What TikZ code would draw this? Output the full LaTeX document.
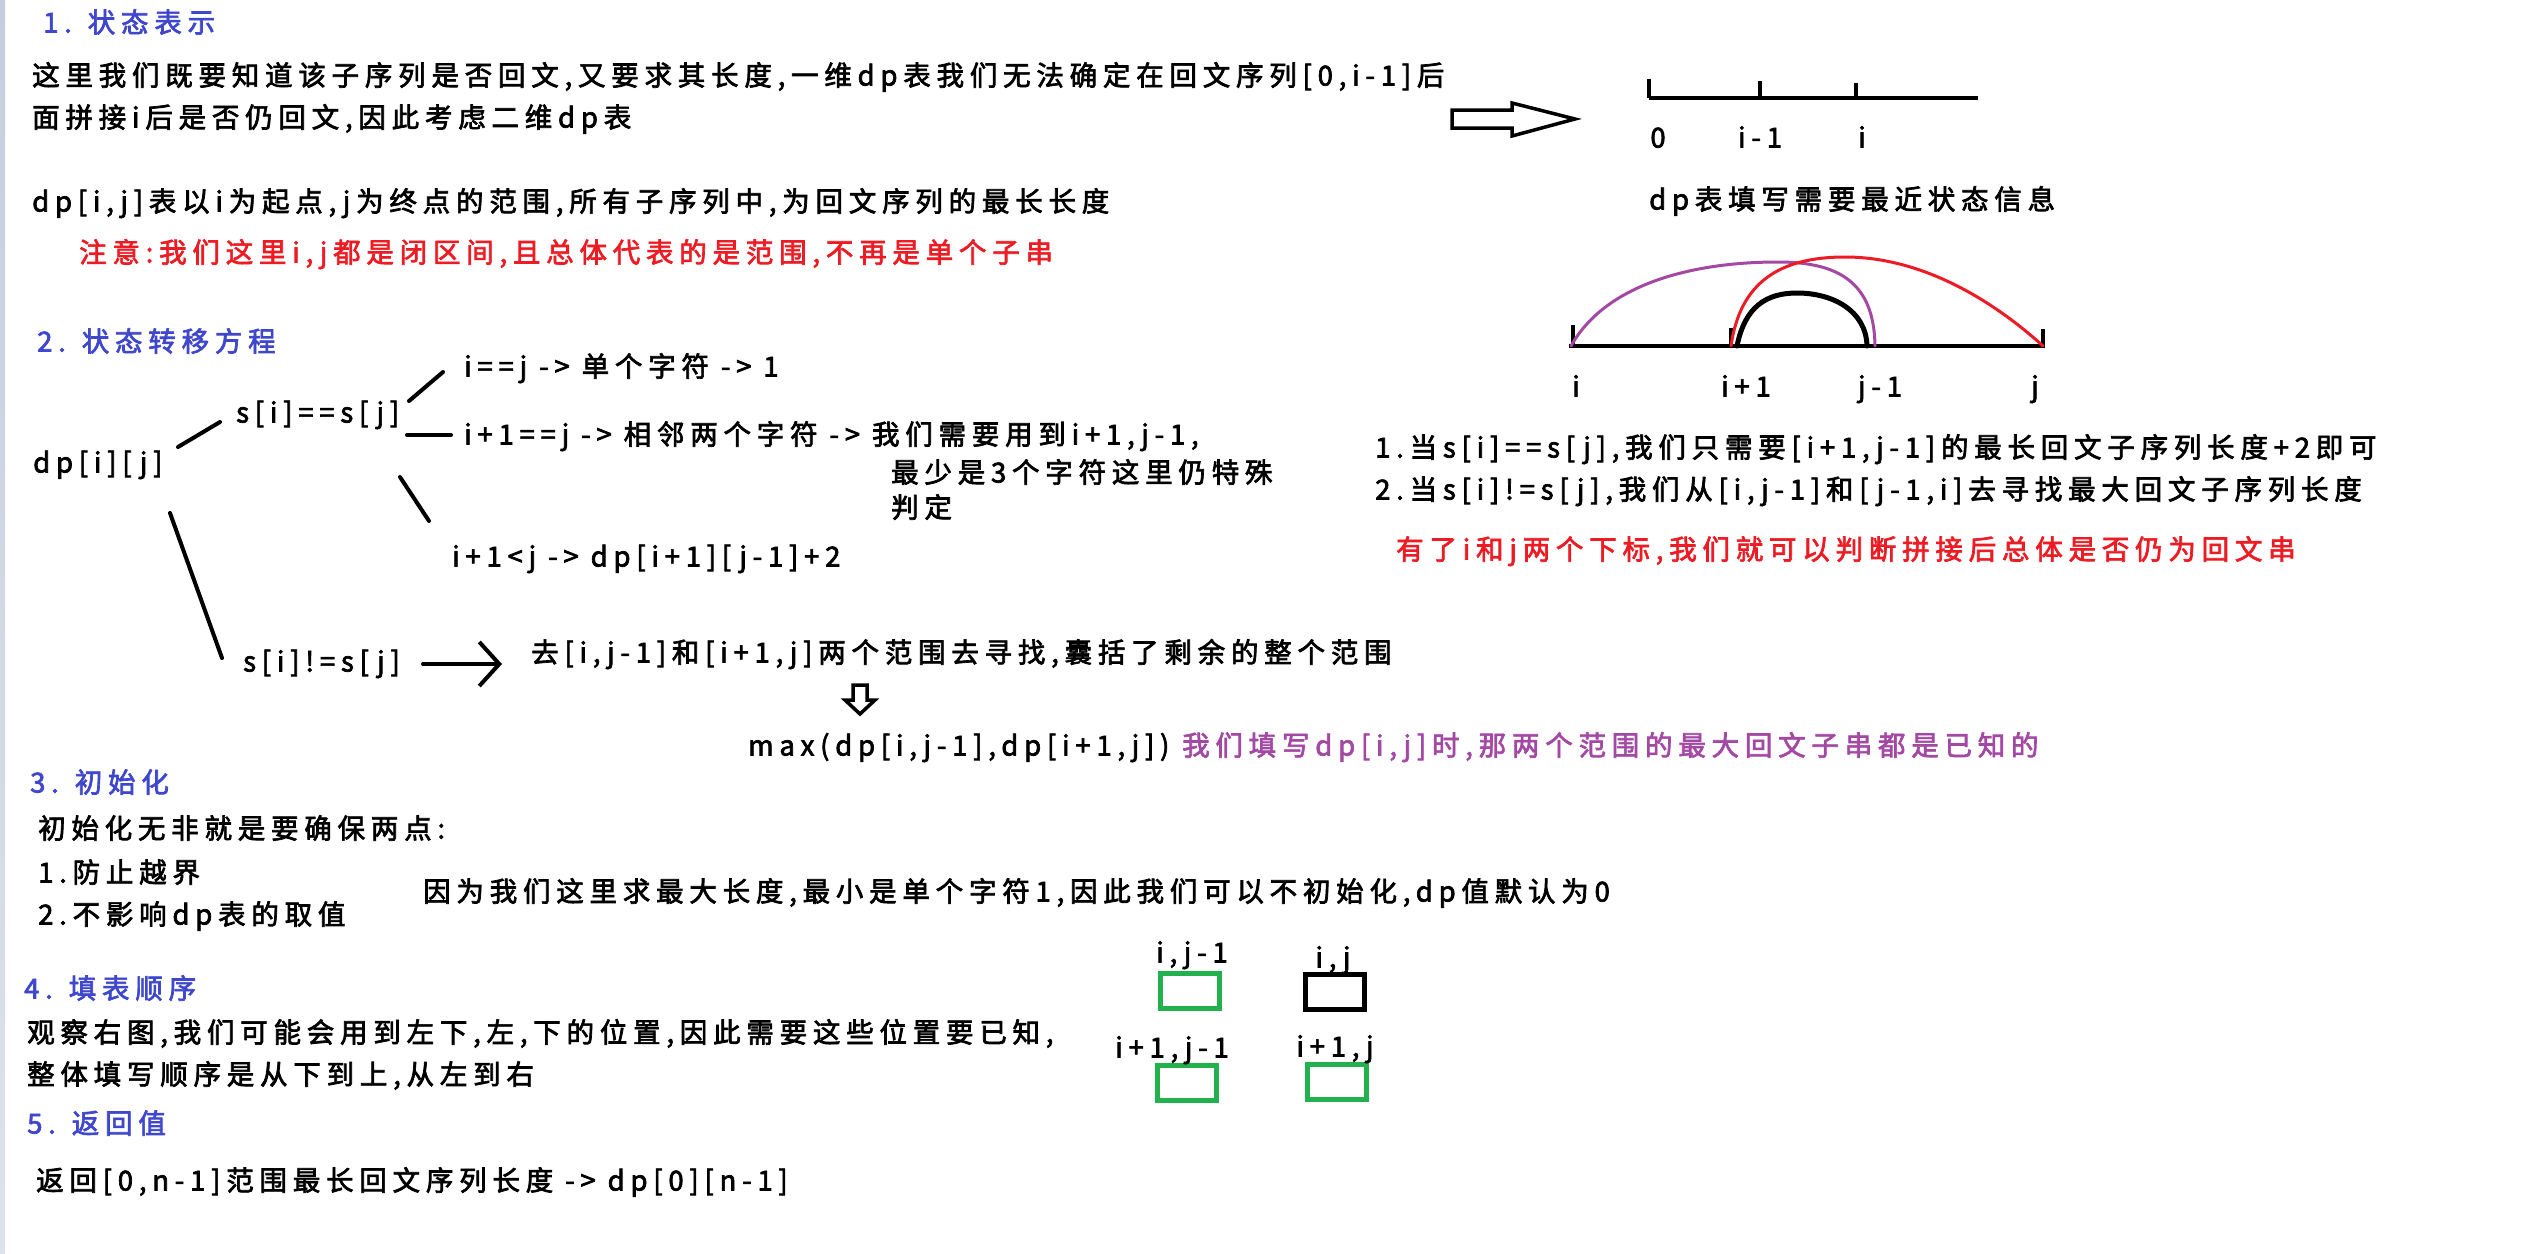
\documentclass[tikz,border=0pt]{standalone}
\usepackage{fontspec}
\setmainfont{Noto Sans CJK SC}[LetterSpace=21, FakeBold=2.5]
\usetikzlibrary{positioning,arrows.meta,calc}
\definecolor{PaintIndigo}{HTML}{3F48CC}
\definecolor{PaintRed}{HTML}{ED1C24}
\definecolor{PaintPurple}{HTML}{A349A4}
\definecolor{PaintGreen}{HTML}{22B14C}
\definecolor{EdgeGray}{HTML}{C6CEDD}

\begin{document}
\begin{tikzpicture}[x=1pt, y=-1pt,
  every node/.style={font=\fontsize{27.5}{35}\selectfont, inner sep=0pt},
  txt/.style={anchor=west, text height=23pt, text depth=4pt},
  head/.style={txt, text=PaintIndigo},
  note/.style={txt, text=PaintRed},
  hint/.style={txt, text=PaintPurple},
  idx/.style={anchor=center, text height=23pt, text depth=4pt},
  branch/.style={line width=4pt, line cap=round},
  arr/.style={branch, -{Straight Barb[length=20pt, width=44pt]}},
  axisline/.style={line width=4.5pt},
  hollow/.style={draw=black, fill=white, line width=3.5pt, line join=miter},
  cellbox/.style={draw, line width=4.5pt, minimum width=59pt, minimum height=35pt},
  gcell/.style={cellbox, draw=PaintGreen},
  kcell/.style={cellbox, draw=black},
  arc/.style={line width=3pt, line cap=round}
]
\useasboundingbox (0,0) rectangle (2534,1253);
\fill[white] (0,0) rectangle (2534,1253);
\fill[top color=EdgeGray, bottom color=EdgeGray!60] (0,0) rectangle (5,1253);

%% 1. state meaning
\node[head] (h1) at (43,23) {1. 状态表示};
\node[txt] (t1a) at (32,76) {这里我们既要知道该子序列是否回文,又要求其长度,一维dp表我们无法确定在回文序列[0,i-1]后};
\node[txt] (t1b) at (32,118) {面拼接i后是否仍回文,因此考虑二维dp表};
\node[txt] (t1c) at (32,202) {dp[i,j]表以i为起点,j为终点的范围,所有子序列中,为回文序列的最长长度};
\node[note] (t1d) at (79,253) {注意:我们这里i,j都是闭区间,且总体代表的是范围,不再是单个子串};

%% 1-D table needs the last state
\draw[hollow] (1452,110) -- (1512,110) -- (1512,103) -- (1575,119) -- (1512,136) -- (1512,128) -- (1452,128) -- cycle;
\coordinate (z0) at (1649,98);
\coordinate (z1) at (1760,98);
\coordinate (z2) at (1856,98);
\coordinate (zE) at (1978,98);
\draw[axisline] (z0) -- (zE);
\draw[axisline] (z0) -- ++(0,-19);
\draw[axisline] (z1) -- ++(0,-17);
\draw[axisline] (z2) -- ++(0,-15);
\node[idx] (l0) at (1658,138) {0};
\node[idx] (l1) at (1760,138) {i-1};
\node[idx] (l2) at (1862,138) {i};
\node[txt] (dpinfo) at (1649,200) {dp表填写需要最近状态信息};

%% 2. transition
\node[head] (h2) at (37,342) {2. 状态转移方程};
\node[txt] (dp) at (33,463) {dp[i][j]};
\node[txt] (s1) at (236,413) {s[i]==s[j]};
\node[txt] (c1) at (464,367) {i==j -> 单个字符 -> 1};
\node[txt] (c2) at (464,435) {i+1==j -> 相邻两个字符 -> 我们需要用到i+1,j-1,};
\node[txt] (c2b) at (891,473) {最少是3个字符这里仍特殊};
\node[txt] (c2c) at (891,508) {判定};
\node[txt] (c3) at (452,557) {i+1<j -> dp[i+1][j-1]+2};
\node[txt] (s2) at (243,662) {s[i]!=s[j]};
\node[txt] (r2) at (531,653) {去[i,j-1]和[i+1,j]两个范围去寻找,囊括了剩余的整个范围};
\node[txt] (mx) at (748,746) {max(dp[i,j-1],dp[i+1,j])};
\node[hint] (mxnote) at (1182,746) {我们填写dp[i,j]时,那两个范围的最大回文子串都是已知的};

\draw[branch] ($(dp.west)+(145,-16)$) -- ($(s1.west)+(-16,9)$);
\draw[branch] ($(c1.west)+(-55,34)$) -- ($(c1.west)+(-21,5)$);
\draw[branch] ($(c2.west)+(-57,0)$) -- ($(c2.west)+(-13,0)$);
\draw[branch] ($(c3.west)+(-52,-80)$) -- ($(c3.west)+(-23,-36)$);
\draw[branch] ($(dp.west)+(137,50)$) -- ($(s2.west)+(-21,-4)$);
\draw[arr] ($(s2.west)+(180,2)$) -- ($(r2.west)+(-29,11)$);
\draw[hollow] (853,685) -- (867,685) -- (867,700) -- (875,700) -- (860,714) -- (845,700) -- (853,700) -- cycle;

%% the two ranges on the right
\coordinate (ai) at (1571,346);
\coordinate (ai1) at (1731,346);
\coordinate (aj1) at (1875,346);
\coordinate (aj) at (2043,346);
\draw[axisline] (1569,346) -- (2045,346);
\draw[axisline] (1573,346) -- ++(0,-21);
\draw[axisline] (ai1) -- ++(0,-18);
\draw[axisline] (aj) -- ++(0,-17);
\draw[arc, PaintPurple] (ai) .. controls (1605,285) and (1690,262) .. (1778,262)
  .. controls (1842,262) and (1874,285) .. (aj1);
\draw[arc, PaintRed] (ai1) .. controls (1740,282) and (1780,257) .. (1845,257)
  .. controls (1920,257) and (1990,298) .. (aj);
\draw[arc, line width=5pt] (1737,346) .. controls (1745,306) and (1767,293) .. (1797,293)
  .. controls (1832,293) and (1866,310) .. (1867,346);
\node[idx] (ri) at (1576,387) {i};
\node[idx] (ri1) at (1746,387) {i+1};
\node[idx] (rj1) at (1880,387) {j-1};
\node[idx] (rj) at (2035,387) {j};

\node[txt] (w1) at (1375,448) {1.当s[i]==s[j],我们只需要[i+1,j-1]的最长回文子序列长度+2即可};
\node[txt] (w2) at (1375,490) {2.当s[i]!=s[j],我们从[i,j-1]和[j-1,i]去寻找最大回文子序列长度};
\node[note] (w3) at (1396,550) {有了i和j两个下标,我们就可以判断拼接后总体是否仍为回文串};

%% 3. init
\node[head] (h3) at (30,783) {3. 初始化};
\node[txt] (i0) at (38,829) {初始化无非就是要确保两点:};
\node[txt] (i1) at (38,873) {1.防止越界};
\node[txt] (i2) at (38,915) {2.不影响dp表的取值};
\node[txt] (i3) at (423,892) {因为我们这里求最大长度,最小是单个字符1,因此我们可以不初始化,dp值默认为0};

%% 4. fill order
\node[head] (h4) at (24,989) {4. 填表顺序};
\node[txt] (o1) at (27,1033) {观察右图,我们可能会用到左下,左,下的位置,因此需要这些位置要已知,};
\node[txt] (o2) at (27,1075) {整体填写顺序是从下到上,从左到右};
\node[gcell] (cl) at (1190,991) {};
\node[kcell] (cc) at (1335,992) {};
\node[gcell] (cdl) at (1187,1083) {};
\node[gcell] (cd) at (1337,1082) {};
\node[idx] (ncl) at (1192,953) {i,j-1};
\node[idx] (ncc) at (1333,958) {i,j};
\node[idx] (ncdl) at (1172,1048) {i+1,j-1};
\node[idx] (ncd) at (1335,1047) {i+1,j};

%% 5. result
\node[head] (h5) at (27,1124) {5. 返回值};
\node[txt] (rv) at (36,1181) {返回[0,n-1]范围最长回文序列长度 -> dp[0][n-1]};
\end{tikzpicture}
\end{document}
